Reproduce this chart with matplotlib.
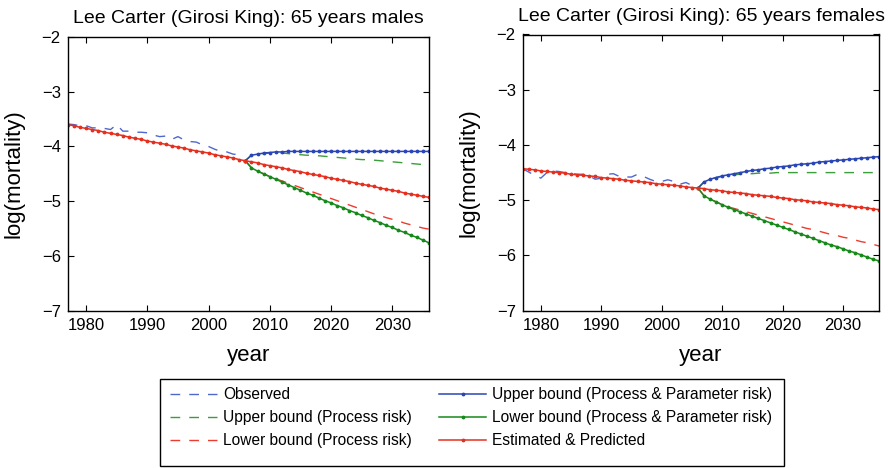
import matplotlib
matplotlib.use("Agg")
import matplotlib.pyplot as plt
from matplotlib.lines import Line2D
from matplotlib.patches import Rectangle

plt.rcParams['font.family'] = ['Liberation Sans', 'DejaVu Sans']

# ---------------- data ----------------
years_obs = list(range(1977, 2006))          # observed period
years_fit = list(range(1977, 2037))          # estimated + predicted
years_fc = list(range(2006, 2037))           # forecast bounds

# males, age 65
male_observed = [-3.59, -3.60, -3.62, -3.62, -3.66, -3.66, -3.67, -3.69, -3.60, -3.72,
                 -3.72, -3.74, -3.74, -3.75, -3.79, -3.82, -3.81, -3.87, -3.82, -3.88,
                 -3.91, -3.92, -3.97, -4.00, -4.05, -4.09, -4.10, -4.14, -4.15]
male_estimated = [-3.60, -3.62, -3.65, -3.67, -3.69, -3.71, -3.74, -3.76, -3.78, -3.80,
                  -3.83, -3.85, -3.87, -3.90, -3.92, -3.94, -3.96, -3.99, -4.01, -4.03,
                  -4.06, -4.08, -4.10, -4.12, -4.15, -4.17, -4.19, -4.21, -4.24, -4.26,
                  -4.28, -4.30, -4.33, -4.35, -4.37, -4.39, -4.42, -4.44, -4.46, -4.49,
                  -4.51, -4.53, -4.55, -4.58, -4.60, -4.62, -4.64, -4.67, -4.69, -4.71,
                  -4.73, -4.76, -4.78, -4.80, -4.82, -4.85, -4.87, -4.89, -4.91, -4.93]
male_upper_proc = [-4.26, -4.16, -4.14, -4.13, -4.12, -4.12, -4.12, -4.13, -4.14, -4.15,
                   -4.16, -4.16, -4.17, -4.18, -4.19, -4.20, -4.21, -4.22, -4.23, -4.24,
                   -4.24, -4.25, -4.26, -4.27, -4.28, -4.29, -4.30, -4.31, -4.32, -4.33,
                   -4.34]
male_lower_proc = [-4.26, -4.39, -4.45, -4.50, -4.55, -4.59, -4.63, -4.67, -4.71, -4.75,
                   -4.79, -4.83, -4.87, -4.91, -4.95, -4.99, -5.03, -5.07, -5.11, -5.15,
                   -5.19, -5.23, -5.26, -5.30, -5.33, -5.36, -5.40, -5.43, -5.46, -5.49,
                   -5.51]
male_upper_param = [-4.26, -4.16, -4.14, -4.12, -4.11, -4.10, -4.10, -4.09, -4.09, -4.09,
                    -4.09, -4.09, -4.09, -4.09, -4.09, -4.09, -4.09, -4.09, -4.09, -4.09,
                    -4.09, -4.09, -4.09, -4.09, -4.09, -4.09, -4.09, -4.09, -4.09, -4.09,
                    -4.09]
male_lower_param = [-4.26, -4.39, -4.45, -4.50, -4.55, -4.60, -4.65, -4.70, -4.75, -4.80,
                    -4.85, -4.89, -4.94, -4.99, -5.03, -5.08, -5.12, -5.17, -5.21, -5.26,
                    -5.30, -5.35, -5.39, -5.44, -5.48, -5.53, -5.57, -5.62, -5.66, -5.71,
                    -5.76]

# females, age 65
female_observed = [-4.43, -4.49, -4.55, -4.60, -4.50, -4.47, -4.48, -4.50, -4.51, -4.53,
                   -4.53, -4.56, -4.62, -4.60, -4.53, -4.52, -4.57, -4.58, -4.58, -4.53,
                   -4.57, -4.62, -4.66, -4.66, -4.63, -4.66, -4.71, -4.68, -4.73]
female_estimated = [-4.43, -4.44, -4.45, -4.47, -4.48, -4.49, -4.50, -4.51, -4.53, -4.54,
                    -4.55, -4.56, -4.57, -4.59, -4.60, -4.61, -4.62, -4.64, -4.65, -4.66,
                    -4.67, -4.68, -4.70, -4.71, -4.72, -4.73, -4.74, -4.76, -4.77, -4.78,
                    -4.79, -4.81, -4.82, -4.83, -4.85, -4.86, -4.87, -4.88, -4.90, -4.91,
                    -4.92, -4.93, -4.95, -4.96, -4.97, -4.99, -5.00, -5.01, -5.03, -5.04,
                    -5.05, -5.06, -5.08, -5.09, -5.10, -5.12, -5.13, -5.14, -5.16, -5.17]
female_upper_proc = [-4.78, -4.67, -4.62, -4.59, -4.57, -4.55, -4.54, -4.53, -4.52, -4.52,
                     -4.51, -4.51, -4.51, -4.50, -4.50, -4.50, -4.50, -4.50, -4.50, -4.50,
                     -4.50, -4.50, -4.50, -4.50, -4.50, -4.50, -4.50, -4.50, -4.50, -4.50,
                     -4.50]
female_lower_proc = [-4.78, -4.92, -4.98, -5.03, -5.08, -5.12, -5.15, -5.18, -5.21, -5.24,
                     -5.27, -5.30, -5.33, -5.36, -5.39, -5.42, -5.45, -5.48, -5.51, -5.53,
                     -5.56, -5.59, -5.62, -5.64, -5.67, -5.69, -5.72, -5.75, -5.77, -5.80,
                     -5.83]
female_upper_param = [-4.78, -4.67, -4.62, -4.59, -4.56, -4.54, -4.52, -4.50, -4.48, -4.46,
                      -4.45, -4.43, -4.42, -4.40, -4.39, -4.38, -4.36, -4.35, -4.34, -4.33,
                      -4.31, -4.30, -4.29, -4.28, -4.27, -4.26, -4.25, -4.24, -4.23, -4.22,
                      -4.21]
female_lower_param = [-4.78, -4.92, -4.98, -5.03, -5.08, -5.13, -5.17, -5.21, -5.25, -5.29,
                      -5.33, -5.37, -5.41, -5.45, -5.49, -5.53, -5.57, -5.61, -5.65, -5.69,
                      -5.73, -5.77, -5.81, -5.84, -5.88, -5.92, -5.95, -5.99, -6.03, -6.07,
                      -6.10]

titles = ["Lee Carter (Girosi King): 65 years males",
          "Lee Carter (Girosi King): 65 years females"]
legend_labels = ["Observed", "Upper bound (Process risk)", "Lower bound (Process risk)",
                 "Upper bound (Process & Parameter risk)",
                 "Lower bound (Process & Parameter risk)", "Estimated & Predicted"]
x_ticks = [1980, 1990, 2000, 2010, 2020, 2030]
y_ticks = [-7, -6, -5, -4, -3, -2]

# ---------------- styles ----------------
C_OBS = '#4f68cc'
C_BLUE = '#2a45b5'
C_GREEN = '#17891a'
C_GREEN_D = '#3a9e3a'
C_RED = '#e5301f'
C_RED_D = '#ee3b30'
DASH = (7, 6.5)

W, H = 891, 468
fig = plt.figure(figsize=(W / 100, H / 100), dpi=100)


def box(l, t, r, b):
    return [l / W, 1 - b / H, (r - l) / W, (b - t) / H]


ax_m = fig.add_axes(box(67.7, 37.0, 429.0, 310.7))
ax_f = fig.add_axes(box(522.7, 34.5, 879.3, 310.7))

panels = [
    (ax_m, male_observed, male_estimated, male_upper_proc, male_lower_proc,
     male_upper_param, male_lower_param),
    (ax_f, female_observed, female_estimated, female_upper_proc, female_lower_proc,
     female_upper_param, female_lower_param),
]

for (ax, obs, est, up_p, lo_p, up_pp, lo_pp), title in zip(panels, titles):
    ax.plot(years_obs, obs, color=C_OBS, lw=1.0, dashes=DASH)
    ax.plot(years_fc, up_p, color=C_GREEN_D, lw=1.0, dashes=DASH)
    ax.plot(years_fc, lo_p, color=C_RED_D, lw=1.0, dashes=DASH)
    ax.plot(years_fc, up_pp, color=C_BLUE, lw=1.1, marker='.', ms=3.5)
    ax.plot(years_fc, lo_pp, color=C_GREEN, lw=1.1, marker='.', ms=3.5)
    ax.plot(years_fit, est, color=C_RED, lw=1.1, marker='.', ms=3.5)

    ax.set_xlim(1977, 2036)
    ax.set_ylim(-7, -2)
    ax.set_xticks(x_ticks)
    ax.set_yticks(y_ticks)
    ax.tick_params(direction='in', length=4, width=0.8, top=True, right=True,
                   labelsize=12, pad=5)
    for s in ax.spines.values():
        s.set_linewidth(1.0)
    ax.set_title(title, fontsize=14, pad=10)
    ax.set_xlabel("year", fontsize=16, labelpad=9)
    ax.set_ylabel("log(mortality)", fontsize=16, labelpad=12)

handles = [
    Line2D([], [], color=C_OBS, lw=1.0, dashes=DASH),
    Line2D([], [], color=C_GREEN_D, lw=1.0, dashes=DASH),
    Line2D([], [], color=C_RED_D, lw=1.0, dashes=DASH),
    Line2D([], [], color=C_BLUE, lw=1.1, marker='.', ms=3.5),
    Line2D([], [], color=C_GREEN, lw=1.1, marker='.', ms=3.5),
    Line2D([], [], color=C_RED, lw=1.1, marker='.', ms=3.5),
]

leg = fig.legend(handles, legend_labels, ncol=2, loc='upper left',
                 bbox_to_anchor=(170 / W, 1 - 387 / H), frameon=False,
                 fontsize=11.2, handlelength=3.05, handletextpad=0.36,
                 columnspacing=1.75, labelspacing=0.53, borderpad=0.0,
                 borderaxespad=0.0, numpoints=1)

fig.patches.append(Rectangle((160.3 / W, 1 - 466 / H), (783.5 - 160.3) / W, (466 - 379) / H,
                             transform=fig.transFigure, fill=False,
                             edgecolor='black', lw=1.0))

fig.savefig("out.png", dpi=100)
